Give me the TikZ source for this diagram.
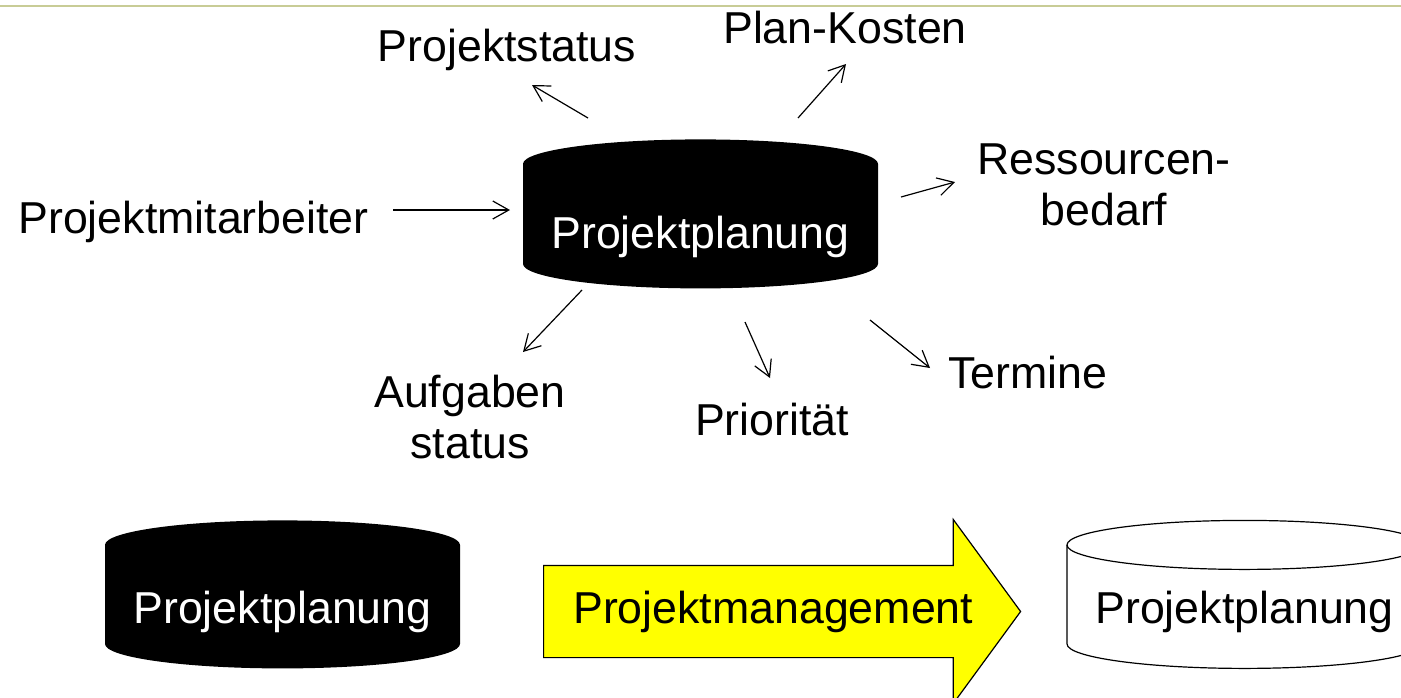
\documentclass[tikz,border=0pt]{standalone}
\usepackage{fontspec}
\setmainfont{Liberation Sans}
\usepackage{tikz}
\usetikzlibrary{shapes.arrows, arrows.meta, positioning, calc}
\definecolor{rulegreen}{RGB}{200,204,150}
\definecolor{mgmtyellow}{RGB}{255,255,0}
\newcommand{\lblfont}{\fontsize{22.35}{25.5}\selectfont}
% cylinder outline inside the node box
\newcommand{\dbbody}{([shift={(1pt,-13.25pt)}]path picture bounding box.north west)
  arc[start angle=180, end angle=0, x radius=88.75pt, y radius=12.25pt]
  -- ([shift={(-1pt,13.25pt)}]path picture bounding box.south east)
  arc[start angle=0, end angle=-180, x radius=88.75pt, y radius=12.25pt] -- cycle}
\newcommand{\dbrim}{([shift={(1pt,-13.25pt)}]path picture bounding box.north west)
  arc[start angle=180, end angle=360, x radius=88.75pt, y radius=12.25pt]}
\tikzset{
  lbl/.style={font=\lblfont, inner sep=0pt},
  arr/.style={-{Straight Barb[length=8pt, width=9pt]}, line width=0.6pt},
  dbbox/.style={rectangle, inner sep=0pt, minimum width=179.5pt, font=\lblfont, anchor=north},
  dbdark/.style={dbbox, text=white, path picture={\fill[black] \dbbody;}},
  dbwhite/.style={dbbox, text=black,
    path picture={\filldraw[fill=white, line width=0.6pt] \dbbody; \draw[line width=0.6pt] \dbrim;}},
  mgmt/.style={single arrow, draw=black, line width=0.6pt, fill=mgmtyellow, font=\lblfont,
    text height=16.5pt, text depth=4.5pt, inner ysep=12.25pt, inner xsep=0pt,
    minimum height=238.5pt, minimum width=91.5pt, single arrow head extend=23pt,
    single arrow tip angle=107.6, anchor=tail}
}
\begin{document}
\begin{tikzpicture}[x=0.5pt, y=-0.5pt]
  \path[use as bounding box, clip] (0,0) rectangle (1401,697);
  \draw[rulegreen, line width=1pt] (0,6) -- (1401,6);

  % upper part
  \node[dbdark, text height=55.5pt, text depth=21pt] (plan) at (700.5,137) {Projektplanung};
  \node[lbl, anchor=base] (pstatus) at (507,61) {Projektstatus};
  \node[lbl, anchor=base] (kosten) at (845,43) {Plan-Kosten};
  \node[lbl, anchor=base west] (mitarb) at (18,233) {Projektmitarbeiter};
  \node[lbl, anchor=north, align=center] (ressourcen) at (1104,143) {Ressourcen-\\bedarf};
  \node[lbl, anchor=north, align=center] (aufgaben) at (470,375) {Aufgaben\\status};
  \node[lbl, anchor=base] (prio) at (772,435) {Priorität};
  \node[lbl, anchor=base west] (termine) at (948,388) {Termine};

  \coordinate (pstatus-a) at (588,118);
  \coordinate (pstatus-b) at (532,85);
  \coordinate (kosten-a) at (798,118);
  \coordinate (kosten-b) at (846,64);
  \coordinate (mitarb-a) at (393,210);
  \coordinate (mitarb-b) at (510,210);
  \coordinate (ressourcen-a) at (901,197);
  \coordinate (ressourcen-b) at (955,182);
  \coordinate (aufgaben-a) at (582,290);
  \coordinate (aufgaben-b) at (523,352);
  \coordinate (prio-a) at (745,322);
  \coordinate (prio-b) at (770,378);
  \coordinate (termine-a) at (870,320);
  \coordinate (termine-b) at (930,368);

  \draw[arr] (pstatus-a) -- (pstatus-b);
  \draw[arr] (kosten-a) -- (kosten-b);
  \draw[arr] (mitarb-a) -- (mitarb-b);
  \draw[arr] (ressourcen-a) -- (ressourcen-b);
  \draw[arr] (aufgaben-a) -- (aufgaben-b);
  \draw[arr] (prio-a) -- (prio-b);
  \draw[arr] (termine-a) -- (termine-b);

  % lower part
  \node[dbdark, text height=52.5pt, text depth=23.5pt] (alt) at (282.5,518) {Projektplanung};
  \node[mgmt] (pm) at (543,611.5) {\hspace*{8pt}Projektmanagement};
  \node[dbwhite, text height=52.5pt, text depth=23.5pt] (neu) at (1244.5,518) {Projektplanung};
\end{tikzpicture}
\end{document}
